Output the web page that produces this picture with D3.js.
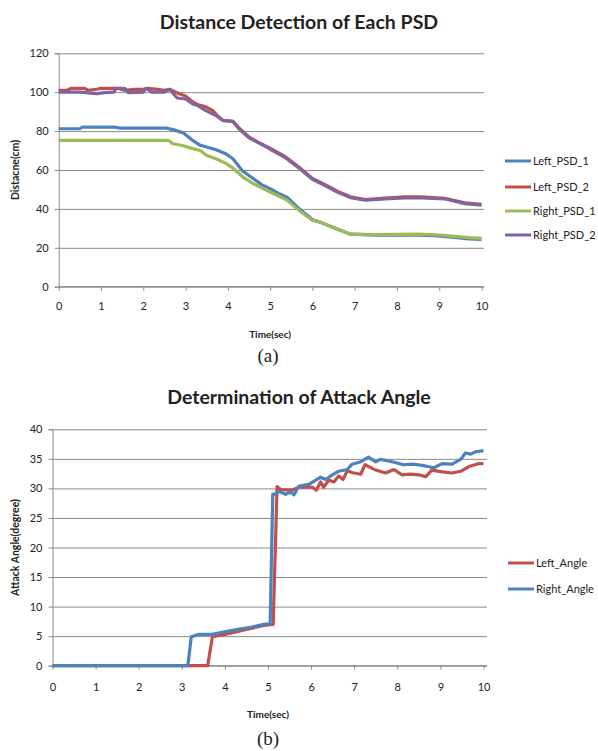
<!DOCTYPE html>
<html>
<head>
<meta charset="utf-8">
<script src="https://cdn.jsdelivr.net/npm/d3@7"></script>
<style>
  body { margin: 0; background: #fff; }
  text { font-family: Lato, "Open Sans", sans-serif; fill: #222; }
</style>
</head>
<body>
<div id="app"></div>
<script>
// tick labels
const timeTicks = [0, 1, 2, 3, 4, 5, 6, 7, 8, 9, 10];
const distTicks = [0, 20, 40, 60, 80, 100, 120];
const angleTicks = [0, 5, 10, 15, 20, 25, 30, 35, 40];

// (a) distance of each PSD, [time (s), distance (cm)]
const leftPsd1 = [[0,81.2],[0.5,81.2],[0.55,82],[1.35,82],[1.45,81.5],[2.55,81.5],[2.75,80.5],[2.95,79],[3.15,75.5],[3.35,72.7],[3.5,71.8],[3.72,70.4],[3.95,68.4],[4.12,65.8],[4.35,59.5],[4.6,55.6],[4.8,52.5],[5.0,50.4],[5.2,48],[5.4,46],[5.68,40.2],[6.0,34.5],[6.2,33],[6.5,30.5],[6.9,27],[7.5,26.5],[8.5,26.5],[8.9,26.3],[9.3,25.5],[9.7,24.6],[10,24.3]];
const leftPsd2 = [[0,101],[0.2,101],[0.3,102],[0.6,102],[0.7,101],[0.9,101.5],[1.0,102],[1.4,102],[1.55,101],[1.8,101.5],[2.0,101.5],[2.1,102],[2.35,101.5],[2.5,101],[2.62,101.5],[2.85,99.2],[3.0,98],[3.17,95],[3.3,93.5],[3.48,92.5],[3.65,90.5],[3.75,88],[3.88,85.5],[4.12,85],[4.27,81.5],[4.5,77],[4.7,74.5],[4.9,72.2],[5.1,70],[5.37,66.7],[5.68,61.5],[6.0,55.6],[6.3,52.5],[6.6,49],[6.9,46.2],[7.25,44.8],[7.72,45.6],[8.19,46.2],[8.58,46.2],[9.13,45.4],[9.6,43.1],[10,42.4]];
const rightPsd1 = [[0,75.2],[2.6,75.2],[2.7,73.5],[2.9,72.7],[3.17,71],[3.35,70],[3.5,67.5],[3.72,65.8],[3.95,63.5],[4.12,61],[4.35,56.5],[4.6,53],[5.0,48.7],[5.4,44.5],[5.68,39.3],[6.0,34.2],[6.2,33.2],[6.5,30.2],[6.9,27],[7.5,26.8],[8.5,27],[8.9,26.7],[9.3,26],[9.7,25.2],[10,24.8]];
const rightPsd2 = [[0,100],[0.5,100],[0.9,99.3],[1.1,99.8],[1.3,100],[1.37,102],[1.56,102],[1.65,99.8],[2.0,100],[2.07,102],[2.2,100],[2.5,100],[2.62,101.5],[2.8,97],[3.0,96.5],[3.17,94],[3.3,93],[3.48,90.5],[3.72,88],[3.88,85.5],[4.12,85],[4.27,81],[4.5,76.5],[4.9,72],[5.1,69.5],[5.37,66.2],[5.68,61],[6.0,55.2],[6.3,52],[6.6,48.5],[6.9,45.8],[7.25,44.5],[7.72,45.2],[8.19,45.6],[8.58,45.6],[9.13,45.2],[9.6,42.7],[10,41.9]];

// (b) attack angle, [time (s), angle (deg)]
const leftAngle = [[0,0],[3.6,0],[3.71,4.9],[4.0,5.3],[4.3,5.8],[4.6,6.3],[4.9,6.8],[5.12,7.0],[5.21,30.3],[5.3,29.8],[5.56,29.7],[5.71,30.2],[6.03,30.2],[6.12,29.7],[6.22,31.1],[6.29,30.2],[6.41,31.4],[6.53,31.1],[6.64,32.1],[6.74,31.5],[6.84,33.0],[6.95,32.7],[7.15,32.4],[7.25,34.0],[7.5,33.1],[7.73,32.6],[7.92,33.2],[8.11,32.3],[8.3,32.4],[8.5,32.3],[8.66,32.0],[8.8,33.1],[9.04,32.8],[9.27,32.6],[9.47,32.9],[9.66,33.7],[9.9,34.2],[10,34.2]];
const rightAngle = [[0,0],[3.14,0],[3.22,4.9],[3.4,5.3],[3.7,5.3],[4.0,5.75],[4.3,6.15],[4.6,6.5],[4.9,7.0],[5.05,7.1],[5.11,29.0],[5.2,29.1],[5.25,29.5],[5.41,29.0],[5.52,29.4],[5.6,28.9],[5.72,30.4],[5.95,30.7],[6.22,31.9],[6.34,31.5],[6.49,32.3],[6.64,32.9],[6.84,33.2],[6.95,34.1],[7.15,34.5],[7.33,35.3],[7.5,34.5],[7.61,34.9],[7.88,34.5],[8.15,34.0],[8.35,34.1],[8.58,33.9],[8.85,33.5],[9.04,34.2],[9.27,34.1],[9.47,34.9],[9.58,36.0],[9.7,35.8],[9.82,36.2],[10,36.4]];

const blue = '#4f81bd', red = '#c0504d', green = '#9bbb59', purple = '#8064a2';
const gridColor = '#8a8a8a';

const svg = d3.select('#app').append('svg')
  .attr('width', 598)
  .attr('height', 751);

svg.append('rect').attr('width', 598).attr('height', 751).attr('fill', '#fff');

function drawPanel(p) {
  const x = d3.scaleLinear().domain([0, 10]).range([p.left, p.xEnd]);
  const y = d3.scaleLinear().domain([0, p.yMax]).range([p.bottom, p.top]);
  const g = svg.append('g');

  // horizontal gridlines + y axis
  const yAxis = g.append('g')
    .attr('transform', `translate(${p.left},0)`)
    .call(d3.axisLeft(y).tickValues(p.yTicks).tickSize(4).tickPadding(6));
  yAxis.select('.domain').attr('stroke', gridColor);
  yAxis.selectAll('.tick line').attr('stroke', gridColor);
  yAxis.selectAll('.tick text').attr('font-size', 11).attr('fill', '#222');
  yAxis.selectAll('.tick').append('line')
    .attr('x1', 0).attr('x2', p.right - p.left)
    .attr('stroke', gridColor).attr('stroke-width', 1);

  // x axis
  const xAxis = g.append('g')
    .attr('transform', `translate(0,${p.bottom})`)
    .call(d3.axisBottom(x).tickValues(timeTicks).tickSize(4).tickPadding(p.xPad));
  xAxis.select('.domain').remove();
  xAxis.append('line').attr('x1', p.left).attr('x2', p.right)
    .attr('stroke', gridColor);
  xAxis.selectAll('.tick line').attr('stroke', gridColor);
  xAxis.selectAll('.tick text').attr('font-size', 11).attr('fill', '#222');

  // series
  const line = d3.line().x(d => x(d[0])).y(d => y(d[1]));
  p.series.forEach(s => {
    g.append('path')
      .datum(s.data)
      .attr('d', line)
      .attr('fill', 'none')
      .attr('stroke', s.color)
      .attr('stroke-width', 3.2)
      .attr('stroke-linejoin', 'round');
  });

  // titles
  g.append('text')
    .attr('x', 299).attr('y', p.titleY)
    .attr('text-anchor', 'middle')
    .attr('font-size', 19.5).attr('font-weight', 'bold')
    .attr('fill', '#111')
    .text(p.title);

  g.append('text')
    .attr('transform', `translate(${p.yLabelX},${(p.top + p.bottom) / 2}) rotate(-90)`)
    .attr('text-anchor', 'middle')
    .attr('font-size', 10.5).attr('font-weight', 'bold')
    .text(p.yLabel);

  g.append('text')
    .attr('x', (p.left + p.xEnd) / 2).attr('y', p.xLabelY)
    .attr('text-anchor', 'middle')
    .attr('font-size', 10).attr('font-weight', 'bold')
    .text('Time(sec)');

  g.append('text')
    .attr('x', 268).attr('y', p.captionY)
    .attr('text-anchor', 'middle')
    .style('font-family', '"Liberation Serif", serif')
    .attr('font-size', 19)
    .text(p.caption);

  // legend
  const leg = g.selectAll('.leg').data(p.series).enter().append('g')
    .attr('transform', (d, i) => `translate(${p.legX},${p.legY[i]})`);
  leg.append('line').attr('x1', 0).attr('x2', 26)
    .attr('stroke', d => d.color).attr('stroke-width', 3);
  leg.append('text').attr('x', 28).attr('dy', '0.35em')
    .attr('font-size', 11).text(d => d.name);
}

drawPanel({
  title: 'Distance Detection of Each PSD', titleY: 29,
  left: 58.7, xEnd: 481.5, right: 484, top: 53.3, bottom: 286.7,
  yMax: 120, yTicks: distTicks, yLabel: 'Distacne(cm)', yLabelX: 19,
  xPad: 12, xLabelY: 338, caption: '(a)', captionY: 362,
  legX: 505, legY: [161, 187, 211, 235],
  series: [
    { name: 'Left_PSD_1', color: blue, data: leftPsd1 },
    { name: 'Left_PSD_2', color: red, data: leftPsd2 },
    { name: 'Right_PSD_1', color: green, data: rightPsd1 },
    { name: 'Right_PSD_2', color: purple, data: rightPsd2 }
  ]
});

drawPanel({
  title: 'Determination of Attack Angle', titleY: 404,
  left: 52.5, xEnd: 483.5, right: 487, top: 429.3, bottom: 665.7,
  yMax: 40, yTicks: angleTicks, yLabel: 'Attack Angle(degree)', yLabelX: 19,
  xPad: 14, xLabelY: 718, caption: '(b)', captionY: 745,
  legX: 508, legY: [563, 589],
  series: [
    { name: 'Left_Angle', color: red, data: leftAngle },
    { name: 'Right_Angle', color: blue, data: rightAngle }
  ]
});
</script>
</body>
</html>
